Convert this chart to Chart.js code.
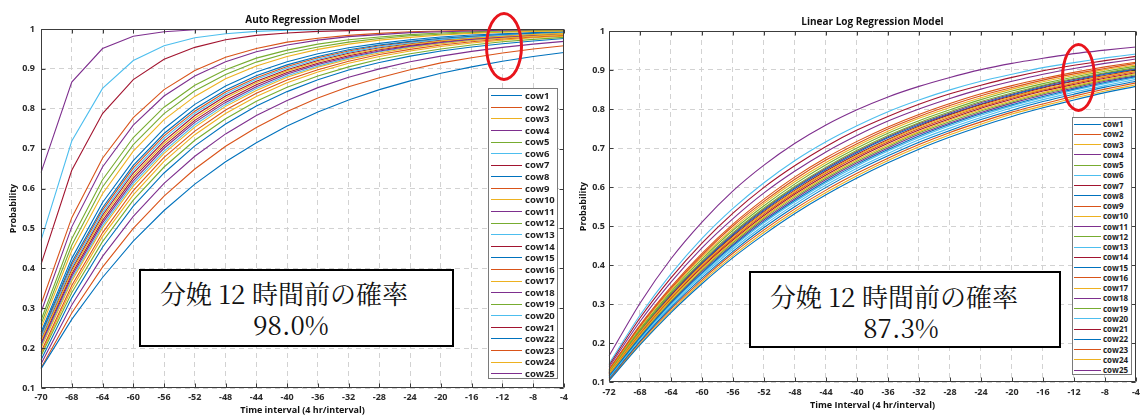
<!DOCTYPE html>
<html><head><meta charset="utf-8">
<script src="https://cdn.jsdelivr.net/npm/chart.js@4/dist/chart.umd.min.js"></script>
<style>
html,body{margin:0;padding:0;background:#fff;}
#wrap{position:relative;width:1145px;height:419px;overflow:hidden;background:#fff;}
canvas{position:absolute;top:0;}
.legend{position:absolute;background:#fff;border:1px solid #7a7a7a;box-sizing:border-box;font-family:'Open Sans',sans-serif;font-weight:bold;color:#1e1e1e;z-index:3;}
.legend .row{display:flex;align-items:center;white-space:nowrap;}
.legend .sw{display:inline-block;}
.note{position:absolute;background:#fff;border:2.6px solid #000;box-sizing:border-box;z-index:4;font-family:'Noto Serif CJK JP','Noto Sans CJK JP',serif;color:#111;}
.note span{position:absolute;white-space:nowrap;transform:translate(-50%,-50%);font-size:26px;line-height:1;}
.ell{position:absolute;border:3px solid #e8141c;border-radius:50%;box-sizing:border-box;z-index:5;}
</style></head>
<body><div id="wrap">
<canvas id="c1" width="572" height="419" style="left:0"></canvas>
<canvas id="c2" width="573" height="419" style="left:572px"></canvas>
<div class="legend" id="lg1" style="left:488px;top:88px;width:70px;height:291px;padding-top:1px"></div>
<div class="legend" id="lg2" style="left:1072px;top:117px;width:60px;height:258px;padding-top:1px"></div>
<div class="note" style="left:139px;top:269px;width:315px;height:78px">
  <span style="left:143px;top:22px">分娩 12 時間前の確率</span>
  <span style="left:150px;top:53px">98.0%</span>
</div>
<div class="note" style="left:749px;top:271px;width:312px;height:77px">
  <span style="left:143px;top:23px">分娩 12 時間前の確率</span>
  <span style="left:150px;top:54px">87.3%</span>
</div>
<div class="ell" style="left:485px;top:12px;width:38px;height:69px"></div>
<div class="ell" style="left:1061px;top:43px;width:35px;height:69px"></div>
</div>
<script>
// ---------- categories / tick labels ----------
const arLabels  = [-70,-68,-64,-60,-56,-52,-48,-44,-40,-36,-32,-28,-24,-20,-16,-12,-8,-4];
const llrLabels = [-72,-68,-64,-60,-56,-52,-48,-44,-40,-36,-32,-28,-24,-20,-16,-12,-8,-4];
const cowNames = ['cow1','cow2','cow3','cow4','cow5','cow6','cow7','cow8','cow9','cow10','cow11','cow12','cow13','cow14','cow15','cow16','cow17','cow18','cow19','cow20','cow21','cow22','cow23','cow24','cow25'];
const lineColors = ['#0072BD','#D95319','#EDB120','#7E2F8E','#77AC30','#4DBEEE','#A2142F'];

// ---------- Auto Regression Model ----------
const arCow1  = [.148,.272,.377,.468,.545,.611,.667,.715,.757,.792,.822,.848,.870,.889,.905,.919,.931,.941];
const arCow2  = [.150,.288,.403,.500,.581,.649,.706,.753,.793,.827,.855,.878,.898,.915,.928,.940,.950,.958];
const arCow3  = [.250,.444,.587,.694,.773,.831,.875,.907,.931,.949,.962,.972,.979,.985,.989,.992,.994,.995];
const arCow4  = [.290,.504,.654,.759,.832,.882,.918,.943,.960,.972,.981,.986,.991,.993,.995,.997,.998,.998];
const arCow5  = [.270,.474,.622,.728,.804,.859,.898,.927,.947,.962,.973,.980,.986,.990,.993,.995,.996,.997];
const arCow6  = [.470,.719,.851,.921,.958,.978,.988,.994,.997,.998,.999,1,1,1,1,1,1,1];
const arCow7  = [.410,.646,.788,.873,.924,.954,.973,.984,.990,.994,.996,.998,.999,.999,1,1,1,1];
const arCow8  = [.240,.425,.565,.670,.750,.811,.857,.892,.918,.938,.953,.964,.973,.980,.985,.988,.991,.993];
const arCow9  = [.310,.527,.676,.778,.848,.896,.929,.951,.967,.977,.984,.989,.993,.995,.997,.998,.998,.999];
const arCow10 = [.218,.392,.527,.632,.713,.777,.827,.865,.895,.918,.936,.950,.961,.970,.977,.982,.986,.989];
const arCow11 = [.640,.867,.951,.982,.993,.998,.999,1,1,1,1,1,1,1,1,1,1,1];
const arCow12 = [.260,.458,.604,.710,.788,.845,.886,.917,.939,.955,.967,.976,.983,.987,.991,.993,.995,.996];
const arCow13 = [.226,.403,.539,.645,.726,.789,.837,.874,.902,.924,.942,.955,.965,.974,.979,.984,.987,.991];
const arCow14 = [.222,.397,.533,.639,.719,.783,.832,.869,.898,.921,.939,.953,.963,.972,.978,.983,.986,.990];
const arCow15 = [.235,.415,.552,.658,.738,.800,.847,.883,.910,.931,.948,.960,.969,.977,.982,.986,.989,.992];
const arCow16 = [.231,.409,.546,.652,.732,.794,.842,.878,.906,.928,.945,.958,.967,.975,.981,.985,.988,.991];
const arCow17 = [.200,.368,.501,.606,.688,.754,.806,.846,.879,.904,.924,.940,.953,.963,.971,.977,.982,.986];
const arCow18 = [.209,.380,.514,.619,.701,.766,.816,.855,.887,.911,.930,.945,.957,.966,.974,.979,.984,.988];
const arCow19 = [.180,.339,.467,.571,.654,.721,.775,.819,.854,.882,.905,.924,.938,.950,.960,.968,.974,.979];
const arCow20 = [.204,.374,.507,.613,.694,.760,.811,.851,.883,.907,.927,.943,.955,.965,.972,.978,.983,.987];
const arCow21 = [.213,.386,.520,.626,.707,.771,.821,.860,.891,.914,.933,.948,.959,.968,.975,.980,.985,.988];
const arCow22 = [.170,.326,.453,.556,.639,.707,.762,.807,.843,.873,.897,.916,.932,.945,.955,.963,.970,.976];
const arCow23 = [.190,.357,.489,.595,.678,.744,.797,.839,.872,.898,.919,.936,.949,.960,.968,.975,.980,.984];
const arCow24 = [.185,.349,.480,.584,.668,.735,.788,.831,.865,.892,.914,.931,.945,.956,.965,.972,.978,.982];
const arCow25 = [.160,.308,.430,.530,.613,.681,.737,.783,.821,.853,.879,.900,.918,.932,.944,.954,.962,.969];

// ---------- Linear Log Regression Model ----------
const llrCow1  = [.103,.195,.278,.352,.419,.478,.532,.580,.623,.662,.697,.728,.756,.781,.803,.823,.842,.858];
const llrCow2  = [.131,.243,.340,.425,.500,.563,.620,.669,.711,.749,.781,.809,.834,.855,.874,.890,.904,.917];
const llrCow3  = [.129,.240,.336,.420,.494,.558,.614,.663,.706,.743,.776,.804,.829,.851,.870,.886,.901,.913];
const llrCow4  = [.167,.302,.416,.510,.590,.656,.712,.759,.798,.831,.858,.881,.901,.917,.930,.942,.951,.959];
const llrCow5  = [.128,.236,.332,.415,.489,.552,.608,.657,.700,.738,.770,.798,.824,.846,.865,.882,.897,.910];
const llrCow6  = [.147,.271,.377,.468,.545,.611,.668,.716,.757,.793,.823,.849,.871,.889,.906,.919,.931,.941];
const llrCow7  = [.143,.264,.367,.456,.533,.599,.655,.704,.746,.781,.812,.839,.861,.881,.898,.912,.924,.935];
const llrCow8  = [.115,.214,.303,.380,.450,.512,.566,.615,.658,.696,.731,.761,.788,.811,.832,.851,.868,.883];
const llrCow9  = [.132,.246,.344,.430,.505,.569,.626,.675,.717,.754,.786,.814,.839,.860,.878,.894,.908,.920];
const llrCow10 = [.122,.227,.318,.400,.471,.534,.589,.638,.681,.719,.753,.782,.808,.831,.851,.868,.884,.898];
const llrCow11 = [.138,.255,.356,.444,.519,.585,.641,.690,.732,.769,.800,.827,.851,.871,.889,.904,.917,.928];
const llrCow12 = [.126,.233,.328,.410,.483,.546,.602,.651,.694,.732,.765,.793,.819,.841,.861,.878,.893,.906];
const llrCow13 = [.114,.212,.300,.377,.446,.508,.562,.611,.654,.692,.727,.757,.784,.808,.829,.848,.865,.880];
const llrCow14 = [.123,.228,.321,.402,.474,.537,.592,.641,.684,.722,.756,.785,.811,.833,.854,.871,.886,.900];
const llrCow15 = [.124,.230,.323,.405,.477,.540,.596,.645,.688,.726,.759,.787,.813,.836,.856,.873,.889,.902];
const llrCow16 = [.121,.225,.316,.397,.468,.531,.586,.635,.678,.716,.750,.779,.805,.828,.849,.866,.882,.896];
const llrCow17 = [.119,.221,.311,.390,.461,.523,.578,.627,.670,.708,.742,.772,.798,.821,.842,.860,.876,.891];
const llrCow18 = [.125,.231,.326,.407,.480,.543,.599,.648,.691,.729,.762,.790,.816,.838,.859,.876,.891,.904];
const llrCow19 = [.118,.219,.308,.387,.457,.520,.574,.623,.666,.704,.739,.768,.795,.818,.839,.857,.874,.888];
const llrCow20 = [.112,.209,.296,.372,.441,.502,.556,.605,.648,.686,.721,.751,.778,.803,.824,.843,.860,.876];
const llrCow21 = [.120,.223,.313,.394,.464,.527,.582,.631,.674,.712,.746,.775,.802,.825,.846,.863,.879,.893];
const llrCow22 = [.110,.205,.291,.367,.435,.496,.550,.599,.642,.680,.715,.745,.773,.797,.819,.838,.856,.871];
const llrCow23 = [.107,.202,.287,.362,.430,.490,.544,.592,.635,.674,.709,.740,.767,.792,.813,.833,.851,.867];
const llrCow24 = [.105,.198,.282,.357,.424,.484,.538,.586,.629,.668,.703,.734,.761,.787,.808,.828,.846,.862];
const llrCow25 = [.116,.216,.305,.384,.453,.516,.570,.619,.662,.700,.735,.764,.791,.815,.836,.854,.871,.885];

const arSeries  = [arCow1,arCow2,arCow3,arCow4,arCow5,arCow6,arCow7,arCow8,arCow9,arCow10,arCow11,arCow12,arCow13,arCow14,arCow15,arCow16,arCow17,arCow18,arCow19,arCow20,arCow21,arCow22,arCow23,arCow24,arCow25];
const llrSeries = [llrCow1,llrCow2,llrCow3,llrCow4,llrCow5,llrCow6,llrCow7,llrCow8,llrCow9,llrCow10,llrCow11,llrCow12,llrCow13,llrCow14,llrCow15,llrCow16,llrCow17,llrCow18,llrCow19,llrCow20,llrCow21,llrCow22,llrCow23,llrCow24,llrCow25];

const FONT = "'Open Sans', sans-serif";
const boxPlugin = {
  id: 'matlabBox',
  afterDatasetsDraw(chart) {
    const {ctx, chartArea: a, scales: {x, y}} = chart;
    ctx.save();
    ctx.strokeStyle = '#3c3c3c';
    ctx.lineWidth = 1;
    ctx.beginPath();
    const L = Math.round(a.left) + 0.5, R = Math.round(a.right) - 0.5, T = Math.round(a.top) + 0.5, B = Math.round(a.bottom) - 0.5;
    ctx.rect(L, T, R - L, B - T);
    const tl = 4;
    for (let i = 0; i < x.ticks.length; i++) {
      const px = Math.round(x.getPixelForTick(i)) + 0.5;
      ctx.moveTo(px, B); ctx.lineTo(px, B - tl);
      ctx.moveTo(px, T); ctx.lineTo(px, T + tl);
    }
    for (let i = 0; i < y.ticks.length; i++) {
      const py = Math.round(y.getPixelForTick(i)) + 0.5;
      ctx.moveTo(L, py); ctx.lineTo(L + tl, py);
      ctx.moveTo(R, py); ctx.lineTo(R - tl, py);
    }
    ctx.stroke();
    ctx.restore();
  }
};

function makeChart(id, labels, series, cfg) {
  const datasets = series.map((d, i) => ({
    label: cowNames[i], data: d,
    borderColor: lineColors[i % 7], backgroundColor: lineColors[i % 7],
    borderWidth: 1.1, pointRadius: 0, tension: cfg.tension, fill: false
  }));
  return new Chart(document.getElementById(id), {
    type: 'line',
    data: { labels: labels.map(String), datasets },
    options: {
      responsive: false, animation: false,
      layout: { padding: { left: 0, right: cfg.padRight, top: 0, bottom: cfg.padBottom } },
      plugins: {
        legend: { display: false }, tooltip: { enabled: false },
        title: { display: true, text: cfg.title, fullSize: false, color: '#111',
          font: { family: FONT, size: 10, weight: 'bold', lineHeight: 1.1 },
          padding: { top: cfg.titleTop, bottom: 3 } }
      },
      scales: {
        x: {
          type: 'category', offset: false,
          afterFit: s => { s.height = cfg.xHeight; },
          grid: { color: '#d2d2d2', lineWidth: 1, drawTicks: false },
          border: { display: false, dash: [5, 4] },
          ticks: { autoSkip: false, maxRotation: 0, minRotation: 0, padding: cfg.xPad, color: '#2a2a2a',
            font: { family: FONT, size: 9, weight: 'bold' } },
          title: { display: true, text: cfg.xTitle, color: '#111', padding: { top: 0, bottom: cfg.xTitleBottom },
            font: { family: FONT, size: 9, weight: 'bold', lineHeight: 1.2 } }
        },
        y: {
          min: 0.1, max: 1,
          afterFit: s => { s.width = cfg.yWidth; },
          grid: { color: '#d2d2d2', lineWidth: 1, drawTicks: false },
          border: { display: false, dash: [5, 4] },
          ticks: { stepSize: 0.1, padding: cfg.yPad, color: '#2a2a2a',
            font: { family: FONT, size: 9, weight: 'bold' },
            callback: v => (Math.abs(v - 1) < 1e-9 ? '1' : v.toFixed(1)) },
          title: { display: true, text: 'Probability', color: '#111', padding: { top: cfg.yTitleTop, bottom: 0 },
            font: { family: FONT, size: 9, weight: 'bold', lineHeight: 1.2 } }
        }
      }
    },
    plugins: [boxPlugin]
  });
}

makeChart('c1', arLabels, arSeries, {
  title: 'Auto Regression Model', xTitle: 'Time interval (4 hr/interval)', tension: 0,
  padRight: 5, padBottom: 0, titleTop: 15, xHeight: 31, yWidth: 41, xPad: 4, yPad: 6, xTitleBottom: 3, yTitleTop: 8
});
makeChart('c2', llrLabels, llrSeries, {
  title: 'Linear Log Regression Model', xTitle: 'Time Interval (4 hr/interval)', tension: 0.25,
  padRight: 2, padBottom: 0, titleTop: 17, xHeight: 37, yWidth: 37, xPad: 5, yPad: 4, xTitleBottom: 8, yTitleTop: 6
});

function buildLegend(elId, rowH, swMargin, swW, gap, fs) {
  const el = document.getElementById(elId);
  cowNames.forEach((n, i) => {
    const row = document.createElement('div');
    row.className = 'row';
    row.style.height = rowH + 'px';
    const sw = document.createElement('span');
    sw.className = 'sw';
    sw.style.cssText = `width:${swW}px;height:0;border-top:1.5px solid ${lineColors[i % 7]};margin-left:${swMargin}px;margin-right:${gap}px;`;
    const tx = document.createElement('span');
    tx.textContent = n;
    tx.style.fontSize = fs + 'px';
    tx.style.lineHeight = rowH + 'px';
    row.appendChild(sw); row.appendChild(tx);
    el.appendChild(row);
  });
}
buildLegend('lg1', 11.58, 2, 31, 3, 9.5);
buildLegend('lg2', 10.25, 1, 27, 2, 8);
</script>
</body></html>
